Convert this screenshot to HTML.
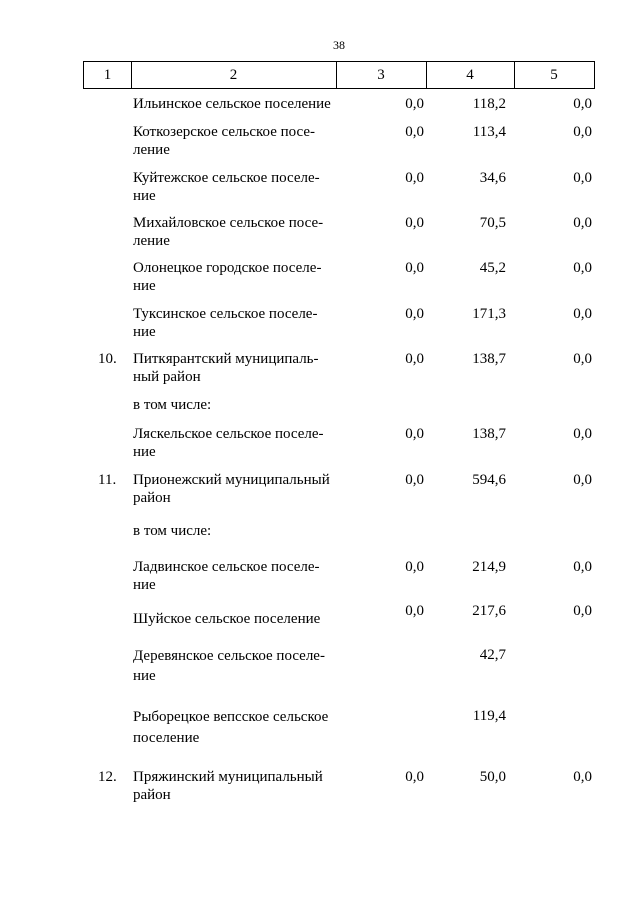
<!DOCTYPE html>
<html><head><meta charset="utf-8"><style>
body{margin:0;width:640px;height:905px;background:#fff;position:relative;font-family:"Liberation Serif",serif;font-size:15px;color:#000;overflow:hidden}
.t{position:absolute;line-height:18px;white-space:nowrap}
.r{position:absolute;line-height:18px;text-align:right;width:60px}
.hb{position:absolute;top:61px;height:28px;border:1px solid #000;box-sizing:border-box;text-align:center;line-height:26px}
</style></head><body>
<div class="t" style="left:333px;top:36px;font-size:12px">38</div>
<div class="hb" style="left:83px;width:49px">1</div>
<div class="hb" style="left:131px;width:206px;border-left:none">2</div>
<div class="hb" style="left:336px;width:91px;border-left:none">3</div>
<div class="hb" style="left:426px;width:89px;border-left:none">4</div>
<div class="hb" style="left:514px;width:81px;border-left:none">5</div>

<div class="t" style="left:133px;top:95px">Ильинское сельское поселение</div>
<div class="r" style="left:364px;top:95px">0,0</div><div class="r" style="left:446px;top:95px">118,2</div><div class="r" style="left:532px;top:95px">0,0</div>

<div class="t" style="left:133px;top:123px">Коткозерское сельское посе-<br>ление</div>
<div class="r" style="left:364px;top:123px">0,0</div><div class="r" style="left:446px;top:123px">113,4</div><div class="r" style="left:532px;top:123px">0,0</div>

<div class="t" style="left:133px;top:169px">Куйтежское сельское поселе-<br>ние</div>
<div class="r" style="left:364px;top:169px">0,0</div><div class="r" style="left:446px;top:169px">34,6</div><div class="r" style="left:532px;top:169px">0,0</div>

<div class="t" style="left:133px;top:214px">Михайловское сельское посе-<br>ление</div>
<div class="r" style="left:364px;top:214px">0,0</div><div class="r" style="left:446px;top:214px">70,5</div><div class="r" style="left:532px;top:214px">0,0</div>

<div class="t" style="left:133px;top:259px">Олонецкое городское поселе-<br>ние</div>
<div class="r" style="left:364px;top:259px">0,0</div><div class="r" style="left:446px;top:259px">45,2</div><div class="r" style="left:532px;top:259px">0,0</div>

<div class="t" style="left:133px;top:305px">Туксинское сельское поселе-<br>ние</div>
<div class="r" style="left:364px;top:305px">0,0</div><div class="r" style="left:446px;top:305px">171,3</div><div class="r" style="left:532px;top:305px">0,0</div>

<div class="t" style="left:98px;top:350px">10.</div>
<div class="t" style="left:133px;top:350px">Питкярантский муниципаль-<br>ный район</div>
<div class="r" style="left:364px;top:350px">0,0</div><div class="r" style="left:446px;top:350px">138,7</div><div class="r" style="left:532px;top:350px">0,0</div>

<div class="t" style="left:133px;top:396px">в том числе:</div>

<div class="t" style="left:133px;top:425px">Ляскельское сельское поселе-<br>ние</div>
<div class="r" style="left:364px;top:425px">0,0</div><div class="r" style="left:446px;top:425px">138,7</div><div class="r" style="left:532px;top:425px">0,0</div>

<div class="t" style="left:98px;top:471px">11.</div>
<div class="t" style="left:133px;top:471px">Прионежский муниципальный<br>район</div>
<div class="r" style="left:364px;top:471px">0,0</div><div class="r" style="left:446px;top:471px">594,6</div><div class="r" style="left:532px;top:471px">0,0</div>

<div class="t" style="left:133px;top:522px">в том числе:</div>

<div class="t" style="left:133px;top:558px">Ладвинское сельское поселе-<br>ние</div>
<div class="r" style="left:364px;top:558px">0,0</div><div class="r" style="left:446px;top:558px">214,9</div><div class="r" style="left:532px;top:558px">0,0</div>

<div class="t" style="left:133px;top:610px">Шуйское сельское поселение</div>
<div class="r" style="left:364px;top:602px">0,0</div><div class="r" style="left:446px;top:602px">217,6</div><div class="r" style="left:532px;top:602px">0,0</div>

<div class="t" style="left:133px;top:646px;line-height:20px">Деревянское сельское поселе-<br>ние</div>
<div class="r" style="left:446px;top:646px">42,7</div>

<div class="t" style="left:133px;top:707px;line-height:21px">Рыборецкое вепсское сельское<br>поселение</div>
<div class="r" style="left:446px;top:707px">119,4</div>

<div class="t" style="left:98px;top:768px">12.</div>
<div class="t" style="left:133px;top:768px">Пряжинский муниципальный<br>район</div>
<div class="r" style="left:364px;top:768px">0,0</div><div class="r" style="left:446px;top:768px">50,0</div><div class="r" style="left:532px;top:768px">0,0</div>
</body></html>
